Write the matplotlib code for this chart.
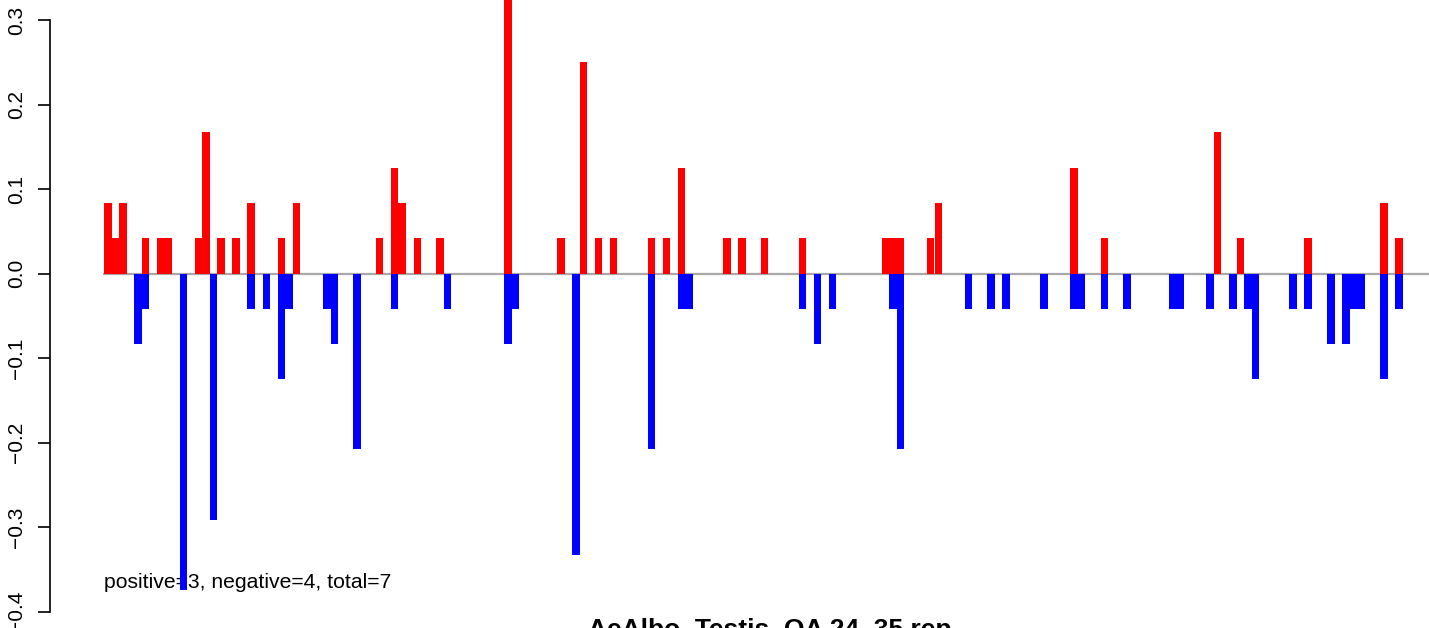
import matplotlib
matplotlib.use("Agg")
import matplotlib.pyplot as plt

# bin index and value of the positive (red) bars
pos_bin = [0, 1, 2, 5, 7, 8, 12, 13, 15, 17, 19, 23, 25, 36, 38, 39, 41, 44,
           53, 60, 63, 65, 67, 72, 74, 76, 82, 84, 87, 92, 103, 104, 105,
           109, 110, 128, 132, 147, 150, 159, 169, 171]
pos_val = [0.083, 0.042, 0.083, 0.042, 0.042, 0.042, 0.042, 0.167, 0.042,
           0.042, 0.083, 0.042, 0.083, 0.042, 0.125, 0.083, 0.042, 0.042,
           0.333, 0.042, 0.25, 0.042, 0.042, 0.042, 0.042, 0.125, 0.042,
           0.042, 0.042, 0.042, 0.042, 0.042, 0.042, 0.042, 0.083, 0.125,
           0.042, 0.167, 0.042, 0.042, 0.083, 0.042]

# bin index and value of the negative (blue) bars
neg_bin = [4, 5, 10, 14, 19, 21, 23, 24, 29, 30, 33, 38, 45, 53, 54, 62, 72,
           76, 77, 92, 94, 96, 104, 105, 114, 117, 119, 124, 128, 129, 132,
           135, 141, 142, 146, 149, 151, 152, 157, 159, 162, 164, 165, 166,
           169, 171]
neg_val = [-0.083, -0.042, -0.375, -0.292, -0.042, -0.042, -0.125, -0.042,
           -0.042, -0.083, -0.208, -0.042, -0.042, -0.083, -0.042, -0.333,
           -0.208, -0.042, -0.042, -0.042, -0.083, -0.042, -0.042, -0.208,
           -0.042, -0.042, -0.042, -0.042, -0.042, -0.042, -0.042, -0.042,
           -0.042, -0.042, -0.042, -0.042, -0.042, -0.125, -0.042, -0.042,
           -0.083, -0.083, -0.042, -0.042, -0.125, -0.042]

yticks = [-0.4, -0.3, -0.2, -0.1, 0.0, 0.1, 0.2, 0.3]
title = "AeAlbo_Testis_OA 24_35 rep"
note = "positive=3, negative=4, total=7"

# layout in pixels
W, H = 1429, 628
axis_x = 50        # y axis line
first_px = 104     # left edge of bin 0
step_px = 7.55     # width of one bin
zero_px = 273.5    # y of value 0
unit_px = 845.0    # pixels per 1.0

plt.rcParams['font.family'] = ['Liberation Sans', 'DejaVu Sans']

fig = plt.figure(figsize=(W / 100, H / 100), dpi=100)
ax = fig.add_axes([axis_x / W, 0, 1 - axis_x / W, 1])

ax.set_xlim((axis_x - first_px) / step_px, (W - first_px) / step_px)
ax.set_ylim((zero_px - H) / unit_px, zero_px / unit_px)

ax.hlines(0, -0.15, (W - first_px) / step_px, color='#a8a8a8', lw=1.6, zorder=1.5)
ax.bar(pos_bin, pos_val, width=1.0, align='edge', color='#ff0000', lw=0, zorder=2)
ax.bar(neg_bin, neg_val, width=1.0, align='edge', color='#0000ff', lw=0, zorder=2)

for s in ['top', 'right', 'bottom']:
    ax.spines[s].set_visible(False)
ax.spines['left'].set_bounds(-0.4, 0.3)
ax.spines['left'].set_linewidth(1.2)
ax.set_xticks([])
ax.set_yticks(yticks)
ax.set_yticklabels([f"{v:.1f}".replace("-", "\u2212") for v in yticks],
                   rotation=90, va='center', fontsize=15)
ax.tick_params(axis='y', length=8.5, width=1.2, pad=9)

ax.text((first_px - axis_x) / (W - axis_x), (H - 583) / H, note,
        transform=ax.transAxes, fontsize=15.2, ha='left', va='center', zorder=1)

fig.text(769.5 / W, -9 / H, title, fontsize=19, fontweight='bold',
         ha='center', va='baseline')

fig.savefig("out.png", dpi=100)
